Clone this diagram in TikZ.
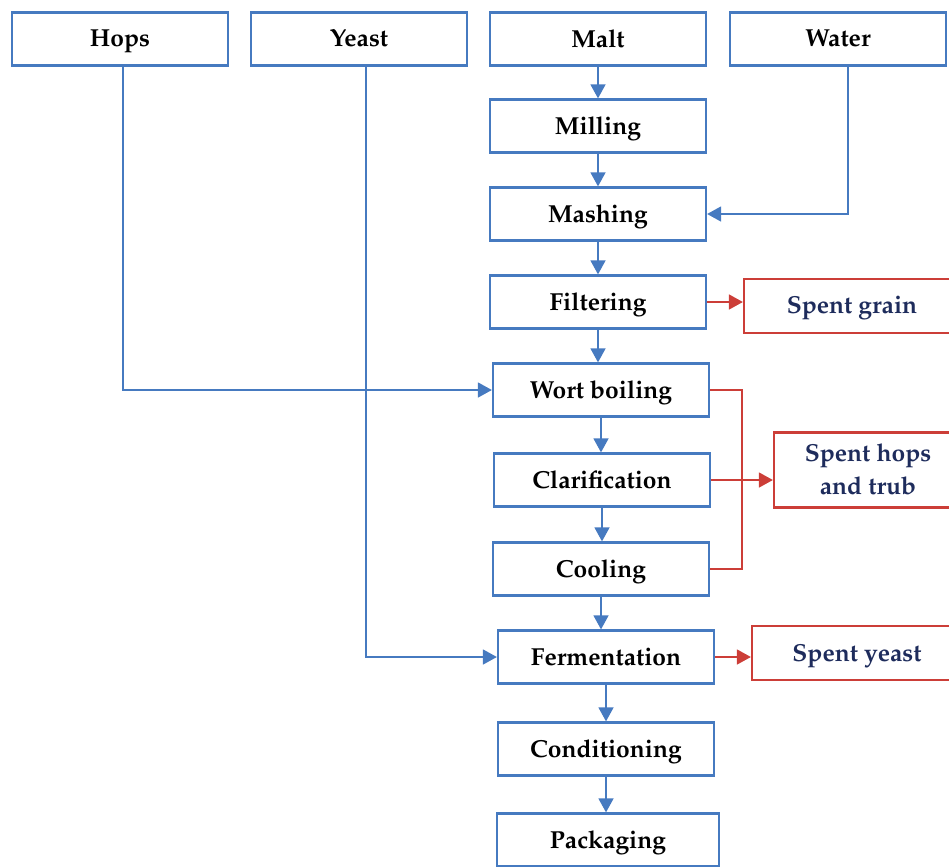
\documentclass[tikz,border=0pt]{standalone}
\usepackage[T1]{fontenc}
\usepackage{mathpazo}
\usetikzlibrary{arrows.meta}

\definecolor{flowblue}{RGB}{70,122,192}
\definecolor{wastered}{RGB}{204,62,56}
\definecolor{wastetext}{RGB}{30,44,92}

\tikzset{
  stepbox/.style={draw=flowblue, line width=1.3pt, minimum width=4.32cm, minimum height=1.06cm, text depth=0.15ex, font=\fontsize{14}{19}\selectfont\bfseries, text=black},
  wastebox/.style={draw=wastered, line width=1.3pt, minimum height=1.08cm, text depth=0.15ex, font=\fontsize{14}{19}\selectfont\bfseries, text=wastetext, align=center},
  flow/.style={flowblue, line width=0.9pt, -{Triangle[length=0.28cm, width=0.3cm]}},
  waste/.style={wastered, line width=0.9pt, -{Triangle[length=0.28cm, width=0.3cm]}}
}

\begin{document}
\begin{tikzpicture}[x=0.02cm, y=-0.02cm]
\useasboundingbox (0,0) rectangle (949,866);

% Inputs
\node[stepbox] (hops) at (120,39) {Hops};
\node[stepbox] (yeast) at (359,39) {Yeast};
\node[stepbox] (malt) at (598,39) {Malt};
\node[stepbox] (water) at (838,39) {Water};

% Process steps
\node[stepbox] (milling) at (598,126) {Milling};
\node[stepbox] (mashing) at (598,214) {Mashing};
\node[stepbox] (filtering) at (598,302) {Filtering};
\node[stepbox] (boiling) at (601,390) {Wort boiling};
\node[stepbox] (clarif) at (602,480) {Clarification};
\node[stepbox] (cooling) at (601,569) {Cooling};
\node[stepbox] (ferment) at (606,657) {Fermentation};
\node[stepbox] (condition) at (606,749) {Conditioning};
\node[stepbox, minimum width=4.44cm] (packaging) at (608,840) {Packaging};

% By-products
\node[wastebox, minimum width=4.32cm] (grain) at (852,306) {Spent grain};
\node[wastebox, minimum width=3.76cm, minimum height=1.5cm] (hopsout) at (868,470) {Spent hops\\and trub};
\node[wastebox, minimum width=4.2cm] (yeastout) at (857,653) {Spent yeast};
\coordinate (bus) at (742,480);

% Main line
\draw[flow] (malt) -- (milling);
\draw[flow] (milling) -- (mashing);
\draw[flow] (mashing) -- (filtering);
\draw[flow] (filtering) -- (filtering |- boiling.north);
\draw[flow] (boiling) -- (boiling |- clarif.north);
\draw[flow] (clarif) -- (clarif |- cooling.north);
\draw[flow] (cooling) -- (cooling |- ferment.north);
\draw[flow] (ferment) -- (ferment |- condition.north);
\draw[flow] (condition) -- (condition |- packaging.north);

% Side inputs
\draw[flow] ([xshift=0.06cm]hops.south) |- (boiling.west);
\draw[flow] ([xshift=0.14cm]yeast.south) |- (ferment.west);
\draw[flow] ([xshift=0.2cm]water.south) |- (mashing.east);

% Waste streams
\draw[waste] (filtering.east) -- (filtering.east -| grain.west);
\draw[wastered, line width=0.9pt] (boiling.east) -- (boiling.east -| bus) -- (cooling.east -| bus) -- (cooling.east);
\draw[waste] (clarif.east) -- (clarif.east -| hopsout.west);
\draw[waste] (ferment.east) -- (ferment.east -| yeastout.west);
\end{tikzpicture}
\end{document}
